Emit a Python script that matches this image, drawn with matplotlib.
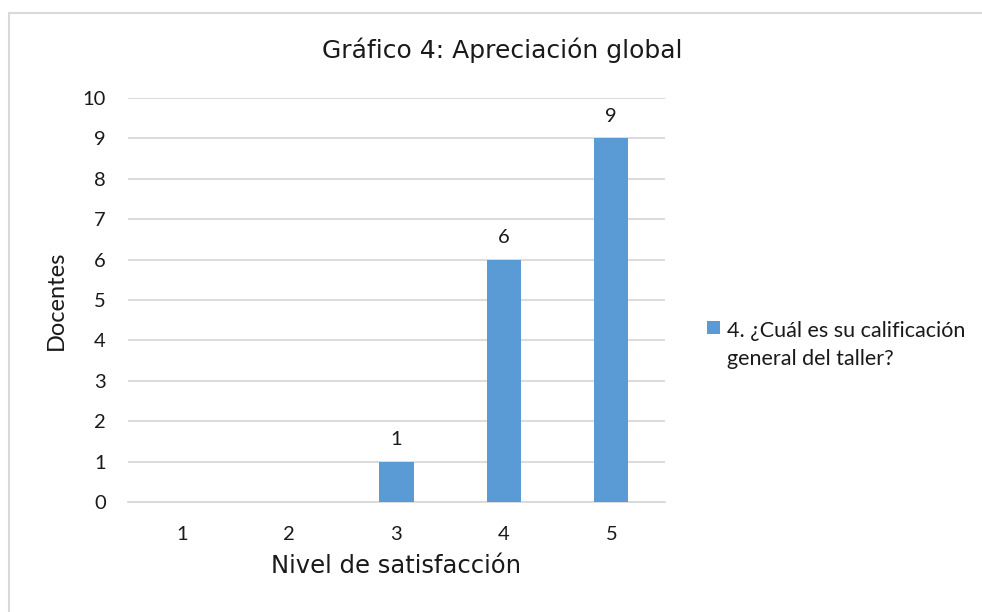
import matplotlib
matplotlib.use("Agg")
import matplotlib.pyplot as plt
from matplotlib.patches import Rectangle

# data
niveles = ["1", "2", "3", "4", "5"]
docentes = [0, 0, 1, 6, 9]
serie = "4. ¿Cuál es su calificación\ngeneral del taller?"
titulo = "Gráfico 4: Apreciación global"

W, H = 982, 612
fig = plt.figure(figsize=(W / 100, H / 100), dpi=100)

# plot area in pixels -> figure fraction
left, right, top, bottom = 128, 665, 98, 502
ax = fig.add_axes([left / W, 1 - bottom / H, (right - left) / W, (bottom - top) / H])

grid_col = "#d9d9d9"
bar_col = "#5b9bd5"
txt_col = "#1a1a1a"
calibri_like = "Lato"
wide_font = "DejaVu Sans"

x = range(len(niveles))
bars = ax.bar(x, docentes, width=0.32, color=bar_col, label=serie, zorder=3)

# only non-zero values get a label
for b, v in zip(bars, docentes):
    if v > 0:
        ax.annotate(str(v), (b.get_x() + b.get_width() / 2, v),
                    xytext=(0, 10), textcoords="offset points",
                    ha="center", va="bottom", fontsize=14.5,
                    family=calibri_like, color=txt_col)

ax.set_xlim(-0.5, len(niveles) - 0.5)
ax.set_ylim(0, 10)
ax.set_yticks(range(0, 11))
ax.set_xticks(list(x))
ax.set_xticklabels(niveles)
ax.yaxis.grid(True, color=grid_col, linewidth=1.3, zorder=0)
ax.set_axisbelow(True)
for s in ["top", "right", "left"]:
    ax.spines[s].set_visible(False)
ax.spines["bottom"].set_color(grid_col)
ax.spines["bottom"].set_linewidth(1.3)
ax.tick_params(axis="both", length=0, labelsize=14.5, labelcolor=txt_col)
ax.tick_params(axis="y", pad=16)
ax.tick_params(axis="x", pad=17)
for lab in ax.get_xticklabels() + ax.get_yticklabels():
    lab.set_family(calibri_like)

ax.set_ylabel("Docentes", fontsize=17, family=calibri_like, color=txt_col, labelpad=11)
ax.set_xlabel("Nivel de satisfacción", fontsize=17.5, family=wide_font,
              color=txt_col, labelpad=8)

fig.text(502 / W, 1 - 50 / H, titulo, ha="center", va="center",
         fontsize=18, family=wide_font, color=txt_col)

leg = ax.legend(loc="center left", bbox_to_anchor=(688 / W, 1 - 345 / H),
                bbox_transform=fig.transFigure, frameon=False,
                prop={"family": calibri_like, "size": 15.5},
                handlelength=0.6, handleheight=0.6, handletextpad=0.3,
                labelcolor=txt_col)
for t in leg.get_texts():
    t.set_linespacing(1.55)
# square sits next to the first line, like Excel does
for col in leg._legend_handle_box.get_children():
    for item in col.get_children():
        item.align = "top"

# light border on left and top only (rest falls outside the image)
fig.add_artist(Rectangle((8.5 / W, -0.1), 1.2, 1.1 - 12.5 / H,
                         transform=fig.transFigure, fill=False,
                         edgecolor=grid_col, linewidth=1.5, clip_on=False))

fig.savefig("out.png", dpi=100)
